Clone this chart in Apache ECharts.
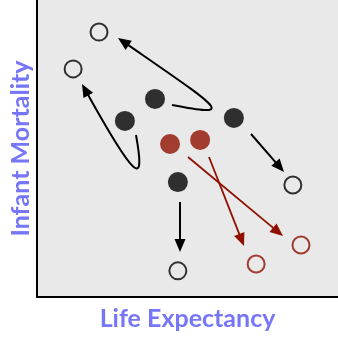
<!DOCTYPE html>
<html>
<head>
<meta charset="utf-8">
<script src="https://cdn.jsdelivr.net/npm/echarts@6/dist/echarts.min.js"></script>
<style>html,body{margin:0;padding:0;background:#fff;}#c{width:338px;height:338px;}</style>
</head>
<body>
<div id="c"></div>
<script>
// Data (arbitrary units, 0..100 on each axis)
const startBlack = [[39.2, 66.7], [29.2, 59.3], [65.4, 60.3], [46.8, 38.7]];
const startRed = [[44.2, 51.5], [54.2, 52.9]];
const endBlack = [[20.6, 89.2], [12.0, 76.8], [85.0, 37.7], [46.8, 8.8]];
const endRed = [[72.8, 11.1], [87.7, 17.5]];

// Arrow paths (data units): from, control1, control2, to
const arrowFrom = [[44.85, 64.65], [32.89, 54.55], [71.10, 54.88], [47.51, 31.99], [50.17, 47.14], [57.14, 47.14]];
const arrowCtrl1 = [[65.78, 60.61], [35.88, 37.71], null, null, null, null];
const arrowCtrl2 = [[62.46, 62.29], [33.55, 37.71], null, null, null, null];
const arrowTo = [[26.91, 87.21], [14.95, 71.72], [82.06, 42.09], [47.51, 15.15], [81.73, 20.54], [68.77, 17.17]];
const arrowColor = ['#000000', '#000000', '#000000', '#000000', '#8f1000', '#8f1000'];

const RED = '#8f1000';
const LABEL = '#7676f6';

const chart = echarts.init(document.getElementById('c'), null, {renderer: 'canvas'});

function renderArrow(params, api) {
  const i = params.dataIndex;
  const p0 = api.coord(arrowFrom[i]);
  const p3 = api.coord(arrowTo[i]);
  const col = arrowColor[i];
  const lw = col === '#000000' ? 2 : 1.8;
  let dirFrom;
  const children = [];
  const headLen = 13, headW = 5.5;
  if (arrowCtrl1[i]) {
    const p1 = api.coord(arrowCtrl1[i]);
    const p2 = api.coord(arrowCtrl2[i]);
    dirFrom = p2;
    const dx = p3[0] - p2[0], dy = p3[1] - p2[1];
    const L = Math.hypot(dx, dy);
    const ex = p3[0] - dx / L * headLen * 0.8, ey = p3[1] - dy / L * headLen * 0.8;
    children.push({
      type: 'bezierCurve',
      shape: {x1: p0[0], y1: p0[1], cpx1: p1[0], cpy1: p1[1], cpx2: p2[0], cpy2: p2[1], x2: ex, y2: ey},
      style: {stroke: col, lineWidth: lw, fill: null}
    });
  } else {
    dirFrom = p0;
    const dx = p3[0] - p0[0], dy = p3[1] - p0[1];
    const L = Math.hypot(dx, dy);
    const ex = p3[0] - dx / L * headLen * 0.8, ey = p3[1] - dy / L * headLen * 0.8;
    children.push({
      type: 'line',
      shape: {x1: p0[0], y1: p0[1], x2: ex, y2: ey},
      style: {stroke: col, lineWidth: lw}
    });
  }
  const dx = p3[0] - dirFrom[0], dy = p3[1] - dirFrom[1];
  const L = Math.hypot(dx, dy);
  const ux = dx / L, uy = dy / L;
  const bx = p3[0] - ux * headLen, by = p3[1] - uy * headLen;
  children.push({
    type: 'polygon',
    shape: {points: [[p3[0], p3[1]], [bx - uy * headW, by + ux * headW], [bx + uy * headW, by - ux * headW]]},
    style: {fill: col}
  });
  return {type: 'group', children: children};
}

const option = {
  animation: false,
  grid: {left: 37, right: 0, top: 0, bottom: 41, show: true, backgroundColor: '#e9e9e9', borderWidth: 0},
  xAxis: {
    type: 'value', min: 0, max: 100,
    name: 'Life Expectancy', nameLocation: 'middle', nameGap: 9,
    nameTextStyle: {color: LABEL, fontFamily: 'Lato', fontWeight: 'bold', fontSize: 25},
    axisLine: {show: true, onZero: false, lineStyle: {color: '#000', width: 2}},
    axisTick: {show: false}, axisLabel: {show: false}, splitLine: {show: false}
  },
  yAxis: {
    type: 'value', min: 0, max: 100,
    name: 'Infant Mortality', nameLocation: 'middle', nameGap: 4,
    nameTextStyle: {color: LABEL, fontFamily: 'Lato', fontWeight: 'bold', fontSize: 25},
    axisLine: {show: true, onZero: false, lineStyle: {color: '#000', width: 2}},
    axisTick: {show: false}, axisLabel: {show: false}, splitLine: {show: false}
  },
  series: [
    {type: 'custom', renderItem: renderArrow, data: arrowFrom, z: 2, silent: true},
    {type: 'scatter', data: startBlack, symbolSize: 20, itemStyle: {color: '#000'}, z: 3},
    {type: 'scatter', data: startRed, symbolSize: 20, itemStyle: {color: RED}, z: 3},
    {type: 'scatter', data: endBlack, symbolSize: 17, itemStyle: {color: 'rgba(0,0,0,0)', borderColor: '#000', borderWidth: 2}, z: 3},
    {type: 'scatter', data: endRed, symbolSize: 17, itemStyle: {color: 'rgba(0,0,0,0)', borderColor: RED, borderWidth: 2}, z: 3}
  ]
};
chart.setOption(option);
</script>
</body>
</html>
